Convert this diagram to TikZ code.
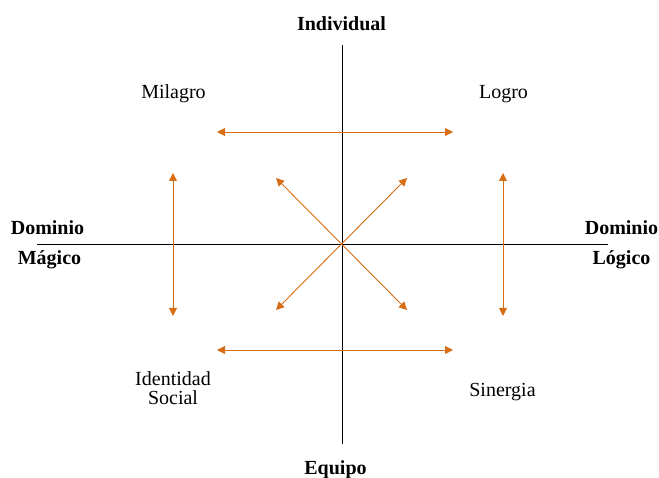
\documentclass[tikz,border=0pt]{standalone}
\usepackage{fontspec}
\setmainfont{Liberation Serif}
\usetikzlibrary{arrows.meta}
\definecolor{arrowor}{RGB}{214,110,22}
\begin{document}
\begin{tikzpicture}[x=1pt,y=-1pt,
  axis/.style={draw=black,line width=0.9pt},
  dbl/.style={draw=arrowor,line width=0.9pt,{Triangle[length=8pt,width=8pt]}-{Triangle[length=8pt,width=8pt]}},
  lbl/.style={anchor=base,inner sep=0pt,font=\fontsize{20}{17}\selectfont,align=center},
  blbl/.style={lbl,font=\fontsize{20}{17}\selectfont\bfseries}]
\useasboundingbox (0,0) rectangle (659,478);
% axes
\coordinate (L) at (37,244);
\coordinate (R) at (608,244);
\coordinate (T) at (342,45);
\coordinate (B) at (342,444);
\draw[axis] (L) -- (R);
\draw[axis] (T) -- (B);
% arrow ends
\coordinate (h1a) at (217,132); \coordinate (h1b) at (453,132);
\coordinate (h2a) at (217,350); \coordinate (h2b) at (453,350);
\coordinate (v1a) at (173,173); \coordinate (v1b) at (173,316);
\coordinate (v2a) at (503,173); \coordinate (v2b) at (503,316);
\coordinate (d1a) at (276,178); \coordinate (d1b) at (407,310);
\coordinate (d2a) at (407,178); \coordinate (d2b) at (276,310);
\draw[dbl] (h1a) -- (h1b);
\draw[dbl] (h2a) -- (h2b);
\draw[dbl] (v1a) -- (v1b);
\draw[dbl] (v2a) -- (v2b);
\draw[dbl] (d1a) -- (d1b);
\draw[dbl] (d2a) -- (d2b);
% labels
\node[blbl] (ind) at (341.5,31) {Individual};
\node[blbl] (eq) at (335.5,474) {Equipo};
\node[blbl] (dm1) at (47.5,235) {Dominio};
\node[blbl] (dm2) at (49.5,265) {Mágico};
\node[blbl] (dl1) at (621.5,235) {Dominio};
\node[blbl] (dl2) at (621.5,265) {Lógico};
\node[lbl] (mil) at (173.5,99) {Milagro};
\node[lbl] (log) at (503.5,99) {Logro};
\node[lbl,anchor=north,font=\fontsize{20}{19.5}\selectfont] (ide) at (173,371) {Identidad\\Social};
\node[lbl] (sin) at (502.5,397) {Sinergia};
\end{tikzpicture}
\end{document}
